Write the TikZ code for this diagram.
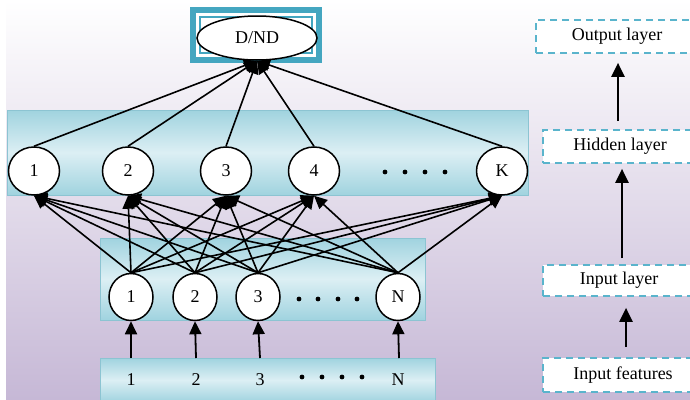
\documentclass[tikz,border=0pt]{standalone}
\usepackage{fontspec}
\setmainfont{Liberation Serif}
\usetikzlibrary{shapes.geometric,arrows.meta}
\definecolor{tealA}{HTML}{44A6C0}
\definecolor{dashA}{HTML}{5AB4CC}
\definecolor{lavA}{HTML}{C6B8D6}
\definecolor{panA}{HTML}{A0D3DF}
\definecolor{panB}{HTML}{DCEFF4}
\definecolor{panE}{HTML}{8CC4D2}
\newcommand\myfs{\fontsize{18}{21}\selectfont}
\begin{document}
\begin{tikzpicture}[x=1pt,y=-1pt,
  hid/.style={ellipse,draw,line width=1.5pt,fill=white,minimum width=51pt,minimum height=48pt,inner sep=0pt,font=\myfs},
  inp/.style={ellipse,draw,line width=1.5pt,fill=white,minimum width=44pt,minimum height=47pt,inner sep=0pt,font=\myfs},
  lbl/.style={inner sep=0pt,font=\myfs},
  dbox/.style={draw=dashA,line width=1.7pt,dash pattern=on 7pt off 5pt,fill=white,inner sep=0pt,font=\myfs},
  conn/.style={line width=1.6pt,-{Triangle[length=13pt,width=12pt]}},
  legarrow/.style={line width=2.2pt,-{Triangle[length=14pt,width=13pt]}},
  panel/.style={top color=panA,bottom color=panA,middle color=panB,draw=panE,line width=0.6pt},
  dotf/.style={fill=black}]
\useasboundingbox (0,0) rectangle (690,399);
\clip (0,0) rectangle (690,399);
% background
\shade[top color=white,bottom color=lavA] (6,0) rectangle (690,399);
% panels
\shade[panel] (7,110) rectangle (528,195);
\shade[panel] (100,238) rectangle (425,320);
\shade[panel] (100,358) rectangle (435,402);
% output box
\fill[tealA] (190,7) rectangle (322,63);
\fill[white] (196,13) rectangle (316,57);
\fill[tealA] (199,16) rectangle (313,54);
\fill[white] (201,18) rectangle (311,52);
\node[ellipse,draw,line width=1.5pt,fill=white,minimum width=120pt,minimum height=44pt,inner sep=0pt,font=\myfs] (out) at (257,38) {D/ND};
% hidden nodes
\node[hid] (h1) at (34,171) {1};
\node[hid] (h2) at (128,171) {2};
\node[hid] (h3) at (226,171) {3};
\node[hid] (h4) at (314,171) {4};
\node[hid] (hK) at (502,171) {K};
\foreach \x in {385,405,425,445} \fill[dotf] (\x,172) circle (2.4pt);
% input nodes
\node[inp] (i1) at (131,297) {1};
\node[inp] (i2) at (195,297) {2};
\node[inp] (i3) at (258,297) {3};
\node[inp] (iN) at (398,297) {N};
\foreach \x in {299,318,338,357} \fill[dotf] (\x,299) circle (2.4pt);
% features
\node[lbl] (f1) at (131,380) {1};
\node[lbl] (f2) at (196,380) {2};
\node[lbl] (f3) at (260,380) {3};
\node[lbl] (fN) at (398,380) {N};
\foreach \x in {302,322,342,362} \fill[dotf] (\x,377) circle (2.4pt);
\coordinate (c1) at (131,358);
\coordinate (c2) at (196,358);
\coordinate (c3) at (260,358);
\coordinate (cN) at (399,358);
% connections
\foreach \h in {h1,h2,h3,h4,hK} \draw[conn] (\h.north) -- (out.south);
\foreach \i in {i1,i2,i3,iN}
  \foreach \h in {h1,h2,h3,h4,hK}
    \draw[conn] (\i.north) -- (\h.south);
\draw[conn,line width=1.8pt] (c1) -- (i1.south);
\draw[conn,line width=1.8pt] (c2) -- (i2.south);
\draw[conn,line width=1.8pt] (c3) -- (i3.south);
\draw[conn,line width=1.8pt] (cN) -- (iN.south);
% right legend
\node[dbox,minimum width=162pt,minimum height=33pt] (ol) at (617,36.5) {Output layer};
\node[dbox,minimum width=154pt,minimum height=33pt] (hl) at (620,146.5) {Hidden layer};
\node[dbox,minimum width=152pt,minimum height=31pt] (il) at (619,280.5) {Input layer};
\node[dbox,minimum width=160pt,minimum height=34pt] (if) at (623,375) {Input features};
\draw[legarrow,shorten <=8pt,shorten >=9pt] ([xshift=-2pt]hl.north) -- ([xshift=1pt]ol.south);
\draw[legarrow,shorten <=6pt,shorten >=5pt] ([xshift=3pt]il.north) -- ([xshift=2pt]hl.south);
\draw[legarrow,shorten <=10pt,shorten >=11pt] ([xshift=3pt]if.north) -- ([xshift=7pt]il.south);
\end{tikzpicture}
\end{document}
